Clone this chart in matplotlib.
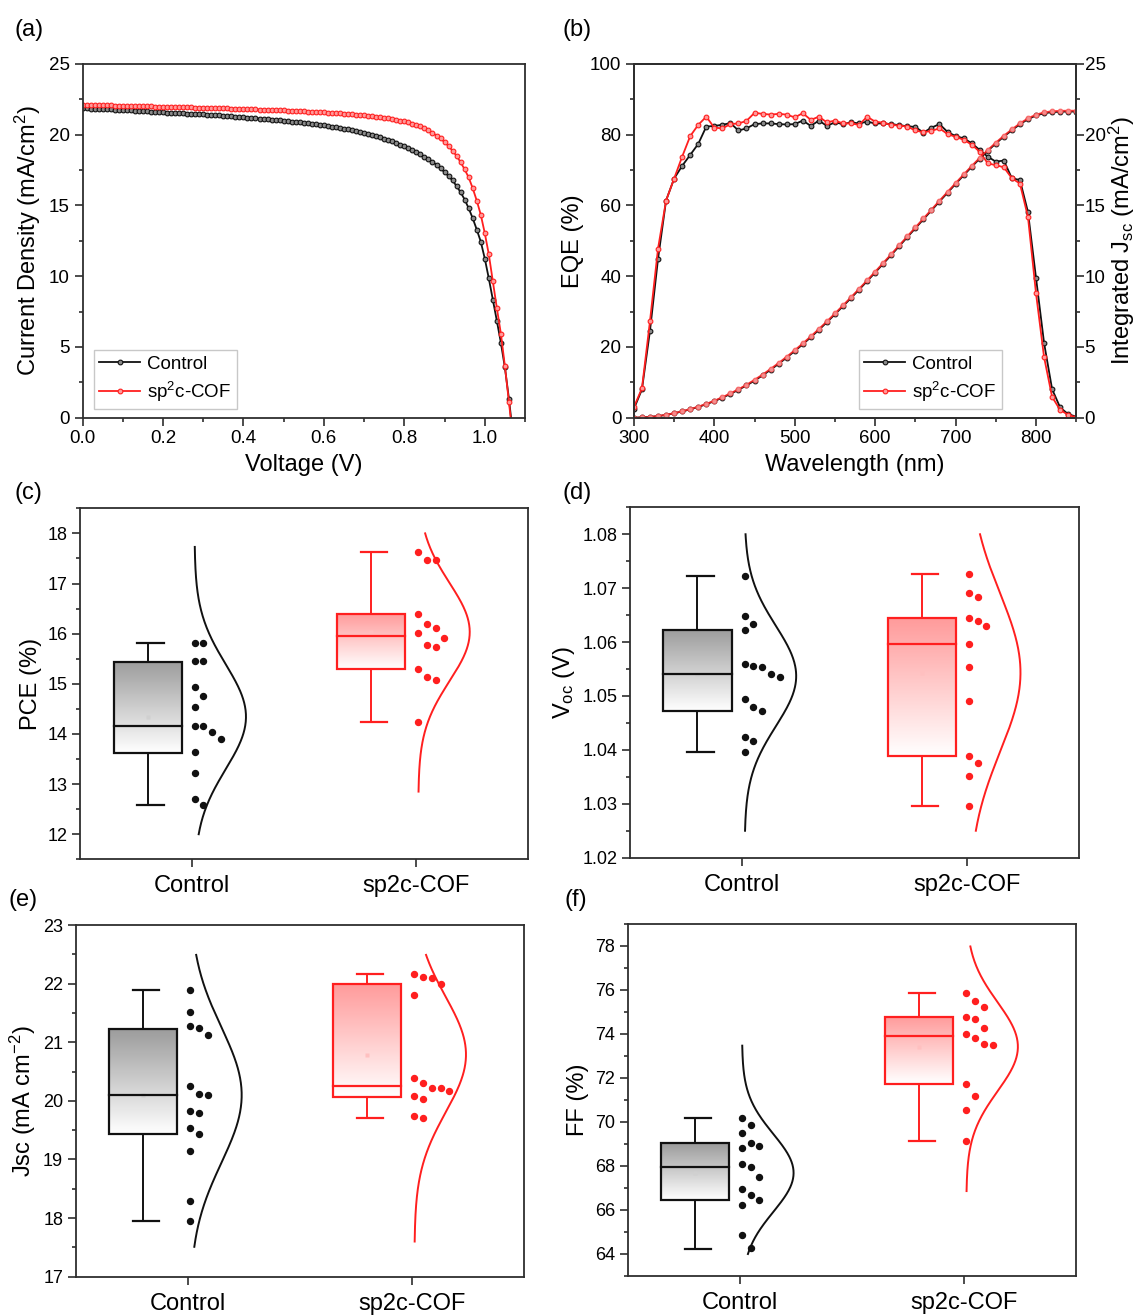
import numpy as np
import matplotlib
matplotlib.use("Agg")
import matplotlib.pyplot as plt
from matplotlib.colors import LinearSegmentedColormap
from matplotlib.patches import Rectangle
from matplotlib.ticker import MultipleLocator, FormatStrFormatter

plt.rcParams['font.family'] = ['Liberation Sans', 'DejaVu Sans']
plt.rcParams['mathtext.fontset'] = 'custom'
plt.rcParams['mathtext.rm'] = 'Liberation Sans'
plt.rcParams['mathtext.it'] = 'Liberation Sans:italic'

W, H = 1139, 1315

# ---------------- (a) J-V curves ----------------
voltage = np.arange(108) * 0.01
jv_control = [
    21.87, 21.86, 21.85, 21.84, 21.83, 21.82, 21.80, 21.79, 21.78, 21.76,
    21.75, 21.73, 21.72, 21.70, 21.68, 21.67, 21.65, 21.63, 21.61, 21.60,
    21.58, 21.57, 21.55, 21.54, 21.53, 21.51, 21.50, 21.48, 21.47, 21.45,
    21.44, 21.42, 21.40, 21.38, 21.36, 21.34, 21.32, 21.30, 21.27, 21.25,
    21.23, 21.21, 21.19, 21.16, 21.14, 21.12, 21.09, 21.07, 21.04, 21.02,
    20.99, 20.96, 20.93, 20.90, 20.87, 20.84, 20.80, 20.77, 20.73, 20.70,
    20.66, 20.62, 20.57, 20.53, 20.48, 20.43, 20.38, 20.33, 20.27, 20.21,
    20.14, 20.07, 19.99, 19.91, 19.82, 19.73, 19.63, 19.53, 19.42, 19.30,
    19.17, 19.04, 18.91, 18.77, 18.61, 18.44, 18.27, 18.09, 17.88, 17.62,
    17.36, 17.08, 16.77, 16.36, 15.93, 15.42, 14.80, 14.10, 13.30, 12.45,
    11.25, 9.85, 8.35, 6.85, 5.30, 3.55, 1.35, -1.20]
jv_cof = [
    22.10, 22.10, 22.09, 22.09, 22.08, 22.08, 22.07, 22.07, 22.06, 22.06,
    22.05, 22.04, 22.04, 22.03, 22.02, 22.02, 22.01, 22.00, 21.99, 21.99,
    21.98, 21.97, 21.97, 21.96, 21.95, 21.95, 21.94, 21.93, 21.92, 21.92,
    21.91, 21.90, 21.89, 21.88, 21.87, 21.87, 21.86, 21.85, 21.84, 21.83,
    21.82, 21.81, 21.80, 21.79, 21.78, 21.77, 21.76, 21.75, 21.74, 21.73,
    21.72, 21.71, 21.70, 21.68, 21.67, 21.66, 21.64, 21.63, 21.61, 21.60,
    21.58, 21.57, 21.55, 21.53, 21.51, 21.49, 21.47, 21.45, 21.42, 21.40,
    21.37, 21.34, 21.31, 21.28, 21.24, 21.20, 21.16, 21.11, 21.06, 21.00,
    20.94, 20.87, 20.79, 20.70, 20.60, 20.48, 20.32, 20.14, 19.94, 19.74,
    19.48, 19.20, 18.86, 18.50, 18.05, 17.55, 16.98, 16.22, 15.35, 14.35,
    13.05, 11.55, 9.65, 7.75, 5.95, 3.65, 1.13, -1.50]

# ---------------- (b) EQE + integrated Jsc ----------------
wavelength = np.arange(300, 851, 10)
eqe_control = [
    2.5, 8.0, 24.6, 44.9, 61.4, 67.6, 71.2, 74.3, 77.4, 82.3,
    82.5, 82.8, 83.3, 81.2, 81.8, 83.0, 83.2, 83.2, 83.0, 82.9,
    83.0, 84.0, 82.5, 84.0, 82.5, 83.5, 83.0, 83.5, 83.2, 83.7,
    83.2, 83.2, 83.0, 82.7, 82.4, 82.2, 80.6, 82.0, 83.0, 80.8,
    79.6, 79.0, 77.6, 75.7, 73.8, 72.4, 72.7, 67.7, 67.2, 58.2,
    39.6, 21.2, 8.1, 2.9, 1.0, 0.3]
eqe_cof = [
    3.0, 8.3, 27.3, 47.8, 61.4, 67.6, 73.8, 79.6, 82.8, 85.1,
    82.0, 81.8, 83.0, 83.2, 83.9, 86.2, 85.9, 85.7, 85.9, 85.7,
    84.9, 86.1, 84.2, 85.1, 83.5, 84.0, 83.2, 83.2, 82.8, 85.1,
    83.7, 83.4, 82.8, 82.6, 82.3, 81.2, 80.7, 81.1, 81.8, 80.2,
    79.4, 78.6, 77.2, 75.2, 71.9, 71.4, 70.8, 67.7, 66.2, 56.8,
    35.2, 17.2, 5.9, 2.2, 0.8, 0.1]
jint_control = [
    0.00, 0.02, 0.06, 0.11, 0.20, 0.31, 0.44, 0.59, 0.76, 0.95,
    1.17, 1.41, 1.68, 1.97, 2.28, 2.62, 2.99, 3.39, 3.81, 4.25,
    4.71, 5.19, 5.69, 6.21, 6.75, 7.31, 7.88, 8.46, 9.05, 9.65,
    10.26, 10.88, 11.50, 12.13, 12.76, 13.39, 14.02, 14.65, 15.28, 15.90,
    16.52, 17.13, 17.73, 18.31, 18.86, 19.38, 19.87, 20.32, 20.74, 21.10,
    21.36, 21.52, 21.60, 21.63, 21.64, 21.64]
jint_cof = [
    0.00, 0.02, 0.06, 0.12, 0.21, 0.32, 0.46, 0.61, 0.78, 0.98,
    1.20, 1.45, 1.72, 2.01, 2.33, 2.68, 3.05, 3.45, 3.87, 4.31,
    4.77, 5.25, 5.75, 6.27, 6.81, 7.37, 7.94, 8.52, 9.11, 9.71,
    10.32, 10.94, 11.56, 12.19, 12.82, 13.45, 14.08, 14.71, 15.34, 15.96,
    16.58, 17.19, 17.79, 18.37, 18.92, 19.44, 19.93, 20.38, 20.80, 21.16,
    21.42, 21.58, 21.66, 21.69, 21.70, 21.70]

# ---------------- (c)-(f) statistics ----------------
groups = ['Control', 'sp2c-COF']

pce_ctrl = [15.81, 15.82, 15.46, 15.46, 14.93, 14.76, 14.54, 14.15, 14.15, 14.04,
            13.89, 13.63, 13.23, 12.70, 12.58]
pce_cof = [17.63, 17.47, 17.47, 16.39, 16.19, 16.12, 16.01, 15.92, 15.78, 15.74,
           15.29, 15.14, 15.08, 14.23]
voc_ctrl = [1.0722, 1.0649, 1.0634, 1.0623, 1.0560, 1.0556, 1.0553, 1.0540, 1.0536,
            1.0494, 1.0479, 1.0473, 1.0423, 1.0416, 1.0397]
voc_cof = [1.0726, 1.0691, 1.0683, 1.0645, 1.0640, 1.0629, 1.0596, 1.0553, 1.0490,
           1.0388, 1.0375, 1.0352, 1.0296]
jsc_ctrl = [21.89, 21.52, 21.28, 21.24, 21.12, 20.26, 20.12, 20.10, 19.83, 19.79,
            19.53, 19.43, 19.14, 18.29, 17.95]
jsc_cof = [22.16, 22.12, 22.10, 22.00, 21.81, 20.39, 20.31, 20.22, 20.22, 20.16,
           20.08, 20.03, 19.75, 19.71]
ff_ctrl = [70.16, 69.85, 69.50, 69.05, 68.91, 68.84, 68.09, 67.95, 67.51, 66.94,
           66.69, 66.45, 66.21, 64.87, 64.26]
ff_cof = [75.86, 75.52, 75.25, 74.78, 74.70, 74.29, 74.02, 73.84, 73.56, 73.52,
          71.74, 71.16, 70.55, 69.12]

# box stats: [whisker low, Q1, median, Q3, whisker high, mean]
pce_ctrl_box = [12.58, 13.61, 14.16, 15.44, 15.82, 14.34]
pce_cof_box = [14.23, 15.29, 15.96, 16.39, 17.63, 16.04]
voc_ctrl_box = [1.0397, 1.0472, 1.0540, 1.0623, 1.0722, 1.0540]
voc_cof_box = [1.0296, 1.0388, 1.0596, 1.0645, 1.0726, 1.0543]
jsc_ctrl_box = [17.95, 19.44, 20.10, 21.23, 21.89, 20.10]
jsc_cof_box = [19.71, 20.07, 20.26, 22.00, 22.16, 20.79]
ff_ctrl_box = [64.23, 66.47, 67.97, 69.05, 70.16, 67.68]
ff_cof_box = [69.12, 71.75, 73.93, 74.78, 75.86, 73.43]

# y-range covered by each normal-distribution curve
pce_span = [[12.0, 17.73], [12.85, 18.0]]
voc_span = [[1.025, 1.08], [1.025, 1.08]]
jsc_span = [[17.51, 22.49], [17.60, 22.49]]
ff_span = [[64.0, 73.47], [66.86, 77.98]]

BLACK = '#111111'
RED = '#ff1f1f'
SPINE = '#2e2e2e'


def axes_px(x0, y0, x1, y1):
    return [x0 / W, 1 - y1 / H, (x1 - x0) / W, (y1 - y0) / H]


def style(ax, fs=13):
    for s in ax.spines.values():
        s.set_color(SPINE)
        s.set_linewidth(1.3)
    ax.tick_params(which='both', direction='out', colors=SPINE, width=1.2,
                   labelsize=fs, labelcolor='black', top=False, right=False)
    ax.tick_params(which='major', length=5.5)
    ax.tick_params(which='minor', length=3)


def swarm_cols(vals, px_per_unit, thr_px=14.0):
    vals = np.asarray(vals, float)
    order = np.argsort(-vals, kind='stable')
    cols = np.zeros(len(vals), int)
    placed = {}
    for i in order:
        k = 0
        while any(abs(vals[i] - v) * px_per_unit < thr_px for v in placed.get(k, [])):
            k += 1
        placed.setdefault(k, []).append(vals[i])
        cols[i] = k
    return cols


fig = plt.figure(figsize=(W / 100, H / 100), dpi=100)

# ---------------- panel (a) ----------------
ax = fig.add_axes(axes_px(82.5, 64, 525, 417.7))
ax.plot(voltage, jv_control, '-o', color=BLACK, lw=1.3, ms=3.4, mfc='#8a8a8a',
        mec=BLACK, mew=0.8, label='Control')
ax.plot(voltage, jv_cof, '-o', color=RED, lw=1.3, ms=3.4, mfc='#ff9a9a',
        mec=RED, mew=0.8, label='sp$^2$c-COF')
ax.set_xlim(0, 1.1)
ax.set_ylim(0, 25)
ax.xaxis.set_major_locator(MultipleLocator(0.2))
ax.xaxis.set_minor_locator(MultipleLocator(0.1))
ax.xaxis.set_major_formatter(FormatStrFormatter('%.1f'))
ax.yaxis.set_major_locator(MultipleLocator(5))
ax.yaxis.set_minor_locator(MultipleLocator(2.5))
style(ax, 13.5)
ax.set_xlabel('Voltage (V)', fontsize=17, labelpad=5)
ax.set_ylabel('Current Density (mA/cm$^2$)', fontsize=17, labelpad=4)
leg = ax.legend(loc='lower left', bbox_to_anchor=(0.025, 0.024), borderaxespad=0,
                fontsize=13.5, handlelength=2.2, handletextpad=0.35, borderpad=0.3,
                labelspacing=0.35, fancybox=False, framealpha=1, edgecolor='#c8c8c8')
leg.get_frame().set_linewidth(1.0)

# ---------------- panel (b) ----------------
ax = fig.add_axes(axes_px(633.9, 64, 1076.2, 417.7))
ax2 = ax.twinx()
l1, = ax.plot(wavelength, eqe_control, '-o', color=BLACK, lw=1.3, ms=3.4, mfc='#8a8a8a',
              mec=BLACK, mew=0.8, label='Control')
l2, = ax.plot(wavelength, eqe_cof, '-o', color=RED, lw=1.3, ms=3.4, mfc='#ff9a9a',
              mec=RED, mew=0.8, label='sp$^2$c-COF')
ax2.plot(wavelength, jint_control, '-o', color=BLACK, lw=1.3, ms=3.4, mfc='#8a8a8a',
         mec=BLACK, mew=0.8)
ax2.plot(wavelength, jint_cof, '-o', color=RED, lw=1.3, ms=3.4, mfc='#ff9a9a',
         mec='#ff5a5a', mew=0.8, alpha=0.85)
ax.set_xlim(300, 850)
ax.set_ylim(0, 100)
ax2.set_ylim(0, 25)
ax.xaxis.set_major_locator(MultipleLocator(100))
ax.xaxis.set_minor_locator(MultipleLocator(50))
ax.yaxis.set_major_locator(MultipleLocator(20))
ax.yaxis.set_minor_locator(MultipleLocator(10))
ax2.yaxis.set_major_locator(MultipleLocator(5))
ax2.yaxis.set_minor_locator(MultipleLocator(2.5))
style(ax, 13.5)
style(ax2, 13.5)
ax2.tick_params(which='both', right=True, left=False, labelright=True, labelleft=False)
ax2.tick_params(axis='y', pad=0.5)
ax.set_xlabel('Wavelength (nm)', fontsize=17, labelpad=5)
ax.set_ylabel('EQE (%)', fontsize=17, labelpad=4)
ax2.set_ylabel('Integrated J$_{\\mathregular{sc}}$ (mA/cm$^2$)', fontsize=17, labelpad=1)
leg = ax2.legend([l1, l2], ['Control', 'sp$^2$c-COF'], loc='lower left',
                 bbox_to_anchor=(0.508, 0.024), borderaxespad=0, fontsize=13.5,
                 handlelength=2.2, handletextpad=0.35, borderpad=0.3, labelspacing=0.35,
                 fancybox=False, framealpha=1, edgecolor='#c8c8c8')
leg.get_frame().set_linewidth(1.0)


# ---------------- box panels ----------------
def box_panel(rect, pts, boxes, spans, ylim, major, minor, ylabel, fmt=None):
    ax = fig.add_axes(axes_px(*rect))
    ax.set_xlim(0.5, 2.5)
    ax.set_ylim(*ylim)
    px_per_unit = (rect[3] - rect[1]) / (ylim[1] - ylim[0])
    colors = [(BLACK, '#9c9c9c', '#d0d0d0'), (RED, '#ff9a9a', '#ffc0c0')]
    for i, (vals, st, span, (col, top, mcol)) in enumerate(zip(pts, boxes, spans, colors)):
        pos = i + 1
        c = pos - 0.2
        half = 0.152
        lo, q1, med, q3, hi, mean = st
        # gradient filled box
        cmap = LinearSegmentedColormap.from_list('g', ['white', top])
        grad = np.linspace(0, 1, 256).reshape(-1, 1)
        ax.imshow(grad, extent=(c - half, c + half, q1, q3), origin='lower',
                  cmap=cmap, aspect='auto', zorder=1, interpolation='bilinear')
        ax.plot([c], [mean], 's', ms=2.2, color=mcol, mec='none', zorder=1.5)
        ax.add_patch(Rectangle((c - half, q1), 2 * half, q3 - q1, fill=False,
                               ec=col, lw=1.6, zorder=3))
        ax.plot([c - half, c + half], [med, med], color=col, lw=1.6, zorder=3)
        ax.plot([c, c], [q3, hi], color=col, lw=1.4, zorder=2)
        ax.plot([c, c], [lo, q1], color=col, lw=1.4, zorder=2)
        for y in (lo, hi):
            ax.plot([c - 0.045, c + 0.072], [y, y], color=col, lw=1.6, zorder=2)
        # data points
        base = pos + 0.01
        cols = swarm_cols(vals, px_per_unit)
        ax.plot(base + cols * 0.039, vals, 'o', ls='none', ms=4.3, color=col,
                mec=col, zorder=5)
        # normal curve
        m, s = np.mean(vals), np.std(vals, ddof=1)
        yy = np.linspace(span[0], span[1], 300)
        xx = base + 0.23 * np.exp(-0.5 * ((yy - m) / s) ** 2)
        ax.plot(xx, yy, color=col, lw=1.4, zorder=4)
    ax.set_xticks([1, 2])
    ax.set_xticklabels(groups, fontsize=17)
    ax.yaxis.set_major_locator(MultipleLocator(major))
    ax.yaxis.set_minor_locator(MultipleLocator(minor))
    if fmt:
        ax.yaxis.set_major_formatter(FormatStrFormatter(fmt))
    style(ax, 13)
    ax.tick_params(axis='x', labelsize=17, pad=6)
    ax.set_ylabel(ylabel, fontsize=17, labelpad=4)
    return ax


box_panel((80.4, 508.3, 527.9, 859.3), [pce_ctrl, pce_cof], [pce_ctrl_box, pce_cof_box],
          pce_span, (11.5, 18.5), 1, 0.5, 'PCE (%)')
box_panel((630.2, 507.3, 1078.8, 857.7), [voc_ctrl, voc_cof], [voc_ctrl_box, voc_cof_box],
          voc_span, (1.02, 1.085), 0.01, 0.005, 'V$_{\\mathregular{oc}}$ (V)', '%.2f')
box_panel((75.7, 925, 524.3, 1276.7), [jsc_ctrl, jsc_cof], [jsc_ctrl_box, jsc_cof_box],
          jsc_span, (17, 23), 1, 0.5, 'Jsc (mA cm$^{-2}$)')
box_panel((627.6, 924, 1076.2, 1276), [ff_ctrl, ff_cof], [ff_ctrl_box, ff_cof_box],
          ff_span, (63, 79), 2, 1, 'FF (%)')

# panel letters
for lab, x, y in [('(a)', 14, 30), ('(b)', 563, 30), ('(c)', 14, 493),
                  ('(d)', 563, 493), ('(e)', 8, 900), ('(f)', 565, 900)]:
    fig.text(x / W, 1 - y / H, lab, fontsize=17, ha='left', va='center')

fig.savefig('out.png', dpi=100)
